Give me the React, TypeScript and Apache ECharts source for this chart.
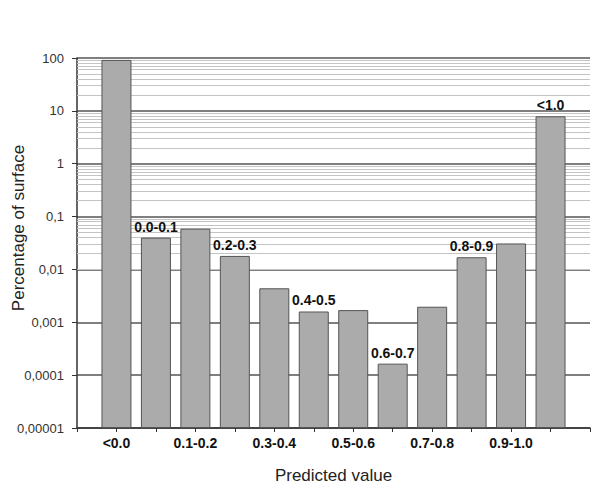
import React, { useEffect, useRef } from "react";
import * as echarts from "echarts";

const categories = ["<0.0", "0.0-0.1", "0.1-0.2", "0.2-0.3", "0.3-0.4", "0.4-0.5", "0.5-0.6", "0.6-0.7", "0.7-0.8", "0.8-0.9", "0.9-1.0", "<1.0"];
const values = [92, 0.04, 0.059, 0.018, 0.0044, 0.0016, 0.0017, 0.000165, 0.00197, 0.017, 0.031, 7.9];
const labeledBars = [1, 3, 5, 7, 9, 11];
const decadeExponents = [-5, -4, -3, -2, -1, 0, 1];
const minorMultipliers = [2, 3, 4, 5, 6, 7, 8, 9];

function fmtLog(v: number): string {
  const e = Math.round(Math.log10(v));
  if (e >= 0) return String(Math.pow(10, e));
  return "0," + "0".repeat(-e - 1) + "1";
}

export default function App() {
  const ref = useRef<HTMLDivElement>(null);
  useEffect(() => {
    if (!ref.current) return;
    const chart = echarts.init(ref.current, null, { renderer: "svg" });
    const minorLines: any[] = [];
    decadeExponents.forEach((e) => {
      minorMultipliers.forEach((k) => {
        minorLines.push({ yAxis: k * Math.pow(10, e) });
      });
    });
    const font = "'Liberation Sans', Arial, sans-serif";
    chart.setOption({
      animation: false,
      backgroundColor: "#fff",
      textStyle: { fontFamily: font },
      grid: { left: 77, right: 10, top: 58, bottom: 62 },
      xAxis: {
        type: "value",
        min: -1,
        max: 12,
        interval: 1,
        name: "Predicted value",
        nameLocation: "middle",
        nameGap: 39,
        nameTextStyle: { fontSize: 17, color: "#222", fontFamily: font },
        splitLine: { show: false },
        axisLine: { show: true, onZero: false, lineStyle: { color: "#333", width: 1.5 } },
        axisTick: { show: true, length: 4, lineStyle: { color: "#333" } },
        axisLabel: {
          margin: 8,
          fontSize: 14,
          fontWeight: "bold",
          color: "#111",
          fontFamily: font,
          formatter: (v: number) => (v >= 0 && v < categories.length && v % 2 === 0 ? categories[v] : ""),
        },
      },
      yAxis: {
        type: "log",
        logBase: 10,
        min: 0.00001,
        max: 100,
        startValue: 0.00001,
        splitNumber: 7,
        axisLine: { show: true, onZero: false, lineStyle: { color: "#333", width: 1.5 } },
        axisTick: { show: true, length: 5, lineStyle: { color: "#333" } },
        axisLabel: { fontSize: 13, color: "#333", margin: 13, fontFamily: font, formatter: (v: number) => fmtLog(v) },
        splitLine: { show: true, lineStyle: { color: "#555", width: 1.5 } },
      },
      graphic: [
        {
          type: "text",
          x: 18,
          y: 228,
          rotation: Math.PI / 2,
          style: {
            text: "Percentage of surface",
            fontSize: 17,
            fill: "#222",
            fontFamily: font,
            align: "center",
            verticalAlign: "middle",
          },
        },
      ],
      series: [
        {
          type: "bar",
          barWidth: 30,
          z: 3,
          itemStyle: { color: "#ababab", borderColor: "#555", borderWidth: 1 },
          label: {
            show: false,
            position: "top",
            distance: 4,
            fontSize: 14,
            fontWeight: "bold",
            color: "#111",
            fontFamily: font,
            formatter: (p: any) => categories[p.dataIndex],
          },
          data: values.map((v, i) => ({
            value: [i, v],
            label: { show: labeledBars.includes(i) },
          })),
          markLine: {
            silent: true,
            z: 1,
            symbol: ["none", "none"],
            label: { show: false },
            lineStyle: { color: "#c4c4c4", width: 1, type: "solid" },
            data: minorLines,
          },
        },
      ],
    });
    return () => chart.dispose();
  }, []);
  return <div ref={ref} style={{ width: 600, height: 490, margin: -8 }} />;
}
